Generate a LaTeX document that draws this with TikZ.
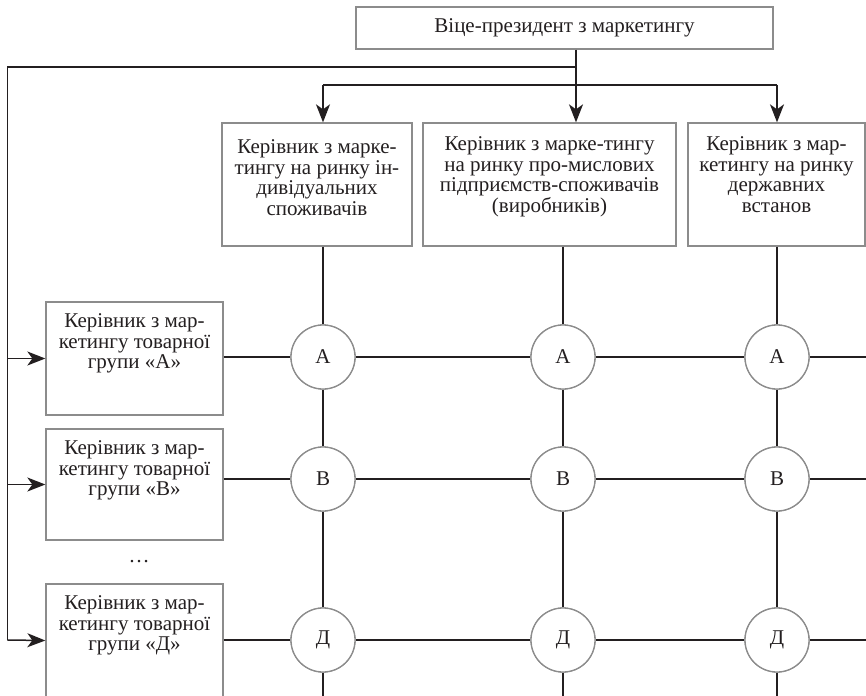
\documentclass[tikz,border=0pt]{standalone}
\usepackage{fontspec}
\setmainfont{Liberation Serif}
\usetikzlibrary{arrows.meta}
\definecolor{ink}{HTML}{231F20}
\definecolor{frame}{HTML}{8C8C8C}
\tikzset{
  conn/.style={draw=ink, line width=1.5pt},
  tip/.style={-{Stealth[length=18pt,width=14pt,inset=5pt]}},
  box/.style={draw=frame, line width=1.3pt, fill=white, inner sep=0pt},
  txt/.style={text=ink, align=center, inner sep=0pt,
    font=\fontsize{21}{20.7}\selectfont},
  hub/.style={circle, draw=frame, line width=1.3pt, fill=white,
    minimum size=64pt, inner sep=0pt, text=ink,
    font=\fontsize{21}{20.7}\selectfont},
}
\begin{document}
\begin{tikzpicture}[x=1pt,y=-1pt]
\useasboundingbox (0,0) rectangle (866,695);
\clip (0,0) rectangle (866,695);

% vice-president
\node[box, minimum width=417pt, minimum height=42pt] (vp) at (564.5,28) {};
\node[txt] at (vp.center) {Віце-президент з маркетингу};

% market managers (columns)
\node[box, minimum width=190pt, minimum height=123pt] (m1) at (317,184.5) {};
\node[box, minimum width=253pt, minimum height=123pt] (m2) at (549.5,184.5) {};
\node[box, minimum width=177pt, minimum height=123pt] (m3) at (776.5,184.5) {};
\node[txt, anchor=north] at ([yshift=-17pt]m1.north)
  {Керівник з марке-\\тингу на ринку ін-\\дивідуальних\\споживачів};
\node[txt, anchor=north] at ([yshift=-14pt]m2.north)
  {Керівник з марке-тингу\\на ринку про-мислових\\підприємств-споживачів\\(виробників)};
\node[txt, anchor=north] at ([yshift=-14pt]m3.north)
  {Керівник з мар-\\кетингу на ринку\\державних\\встанов};

% product group managers (rows)
\node[box, minimum width=177pt, minimum height=113pt] (ga) at (134.5,358.5) {};
\node[box, minimum width=177pt, minimum height=111pt] (gb) at (134.5,484.5) {};
\node[box, minimum width=177pt, minimum height=113pt] (gd) at (134.5,640.5) {};
\node[txt, anchor=north] at ([yshift=-12pt]ga.north)
  {Керівник з мар-\\кетингу товарної\\групи «А»};
\node[txt, anchor=north] at ([yshift=-12pt]gb.north)
  {Керівник з мар-\\кетингу товарної\\групи «В»};
\node[txt, anchor=north] at ([yshift=-12pt]gd.north)
  {Керівник з мар-\\кетингу товарної\\групи «Д»};
\node[txt] (dots) at (139,562) {…};

% column axes and junctions
\coordinate (k1) at (323,0);
\coordinate (k2) at (563,0);
\coordinate (k3) at (777,0);
\coordinate (j1) at (576,67);
\coordinate (j2) at (576,85);
\coordinate (lt) at (7.5,67);
\coordinate (lb) at (7.5,640);
\coordinate (bottom) at (0,700);
\coordinate (rightedge) at (870,0);

% matrix nodes
\foreach \r/\y/\l in {A/357/А, B/479/В, D/640/Д}{
  \node[hub] (\r1) at (323,\y) {\l};
  \node[hub] (\r2) at (563,\y) {\l};
  \node[hub] (\r3) at (777,\y) {\l};
}

% links from the vice-president
\draw[conn] (vp.south -| j1) -- (j2);
\draw[conn] (j1) -- (lt) -- (lb);
\draw[conn] (j2 -| k1) -- (j2 -| k3);
\draw[conn,tip] (j2 -| k1) -- (m1.north -| k1);
\draw[conn,tip] (j2) -- (m2.north -| j2);
\draw[conn,tip] (j2 -| k3) -- (m3.north -| k3);
\draw[conn,tip] (lt |- ga.west) -- (ga.west);
\draw[conn,tip] (lt |- gb.west) -- (gb.west);
\draw[conn,tip] (lb) -- (gd.west);

% grid lines
\draw[conn] (m1.south -| k1) -- (A1) -- (B1) -- (D1) -- (D1 |- bottom);
\draw[conn] (m2.south -| k2) -- (A2) -- (B2) -- (D2) -- (D2 |- bottom);
\draw[conn] (m3.south -| k3) -- (A3) -- (B3) -- (D3) -- (D3 |- bottom);
\draw[conn] (ga.east |- A1) -- (A1) -- (A2) -- (A3) -- (A3 -| rightedge);
\draw[conn] (gb.east |- B1) -- (B1) -- (B2) -- (B3) -- (B3 -| rightedge);
\draw[conn] (gd.east |- D1) -- (D1) -- (D2) -- (D3) -- (D3 -| rightedge);

% redraw hubs over the lines
\foreach \r/\y/\l in {A/357/А, B/479/В, D/640/Д}{
  \node[hub] at (323,\y) {\l};
  \node[hub] at (563,\y) {\l};
  \node[hub] at (777,\y) {\l};
}
\end{tikzpicture}
\end{document}
